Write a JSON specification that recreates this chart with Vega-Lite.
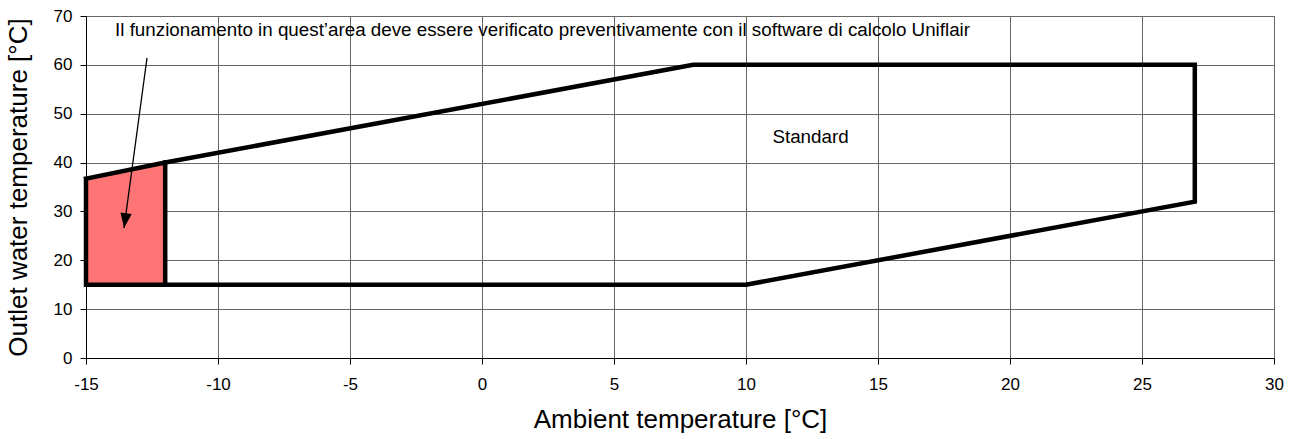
{
  "$schema": "https://vega.github.io/schema/vega-lite/v6.json",
  "width": 1188,
  "height": 342,
  "autosize": {"type": "none"},
  "padding": {"left": 86, "top": 16, "right": 27, "bottom": 81},
  "background": "white",
  "config": {
    "font": "Liberation Sans",
    "view": {"stroke": "#888888", "strokeWidth": 1},
    "axis": {
      "gridColor": "#666666",
      "gridWidth": 1,
      "gridOpacity": 1,
      "domainColor": "#000000",
      "domainWidth": 1,
      "tickColor": "#000000",
      "tickSize": 6,
      "labelFont": "Liberation Sans",
      "labelFontSize": 17,
      "labelColor": "#000000",
      "labelFlush": false,
      "labelOverlap": false,
      "titleFont": "Liberation Sans",
      "titleFontSize": 26,
      "titleFontWeight": "normal",
      "titleColor": "#000000",
      "labelExpr": "replace(datum.label, '−', '-')"
    }
  },
  "datasets": {
    "outline": [
      {"x": -15, "y": 36.7, "grp": "a", "ord": 0},
      {"x": -12, "y": 40, "grp": "a", "ord": 1},
      {"x": 8, "y": 60, "grp": "a", "ord": 2},
      {"x": 27, "y": 60, "grp": "a", "ord": 3},
      {"x": 27, "y": 32, "grp": "a", "ord": 4},
      {"x": 10, "y": 15, "grp": "a", "ord": 5},
      {"x": -15, "y": 15, "grp": "a", "ord": 6},
      {"x": -15, "y": 36.7, "grp": "a", "ord": 7},
      {"x": -12, "y": 15, "grp": "b", "ord": 0},
      {"x": -12, "y": 40, "grp": "b", "ord": 1}
    ],
    "red": [
      {"x": -15, "top": 36.7, "bot": 15},
      {"x": -12, "top": 40, "bot": 15}
    ],
    "arrow": [
      {"x": -12.69, "y": 61.4, "ord": 0},
      {"x": -13.56, "y": 26.6, "ord": 1}
    ],
    "tip": [
      {"x": -13.56, "y": 26.6}
    ],
    "labels": [
      {"x": -13.9, "y": 67.1, "text": "Il funzionamento in quest’area deve essere verificato preventivamente con il software di calcolo Uniflair"},
      {"x": 11.0, "y": 45.2, "text": "Standard"}
    ]
  },
  "layer": [
    {
      "data": {"name": "red"},
      "mark": {"type": "area", "color": "#ff7474", "opacity": 1},
      "encoding": {
        "x": {"field": "x", "type": "quantitative", "scale": {"domain": [-15, 30], "nice": false}, "axis": {"values": [-15, -10, -5, 0, 5, 10, 15, 20, 25, 30], "title": "Ambient temperature [°C]", "titlePadding": 14, "labelPadding": 12}},
        "y": {"field": "top", "type": "quantitative", "scale": {"domain": [0, 70], "nice": false}, "axis": {"values": [0, 10, 20, 30, 40, 50, 60, 70], "title": "Outlet water temperature [°C]", "titlePadding": 22, "labelPadding": 8}},
        "y2": {"field": "bot"}
      }
    },
    {
      "data": {"name": "outline"},
      "mark": {"type": "line", "color": "#000000", "strokeWidth": 4.5, "strokeJoin": "miter", "strokeCap": "square"},
      "encoding": {
        "x": {"field": "x", "type": "quantitative"},
        "y": {"field": "y", "type": "quantitative"},
        "detail": {"field": "grp"},
        "order": {"field": "ord"}
      }
    },
    {
      "data": {"name": "arrow"},
      "mark": {"type": "line", "color": "#000000", "strokeWidth": 1.3},
      "encoding": {
        "x": {"field": "x", "type": "quantitative"},
        "y": {"field": "y", "type": "quantitative"},
        "order": {"field": "ord"}
      }
    },
    {
      "data": {"name": "tip"},
      "mark": {"type": "point", "shape": "M-0.38,-1L0.38,-1L0,0Z", "size": 900, "filled": true, "color": "#000000", "opacity": 1, "angle": 8},
      "encoding": {
        "x": {"field": "x", "type": "quantitative"},
        "y": {"field": "y", "type": "quantitative"}
      }
    },
    {
      "data": {"name": "labels"},
      "mark": {"type": "text", "align": "left", "baseline": "middle", "font": "Liberation Sans", "fontSize": 18.8, "color": "#000000"},
      "encoding": {
        "x": {"field": "x", "type": "quantitative"},
        "y": {"field": "y", "type": "quantitative"},
        "text": {"field": "text"}
      }
    }
  ]
}
